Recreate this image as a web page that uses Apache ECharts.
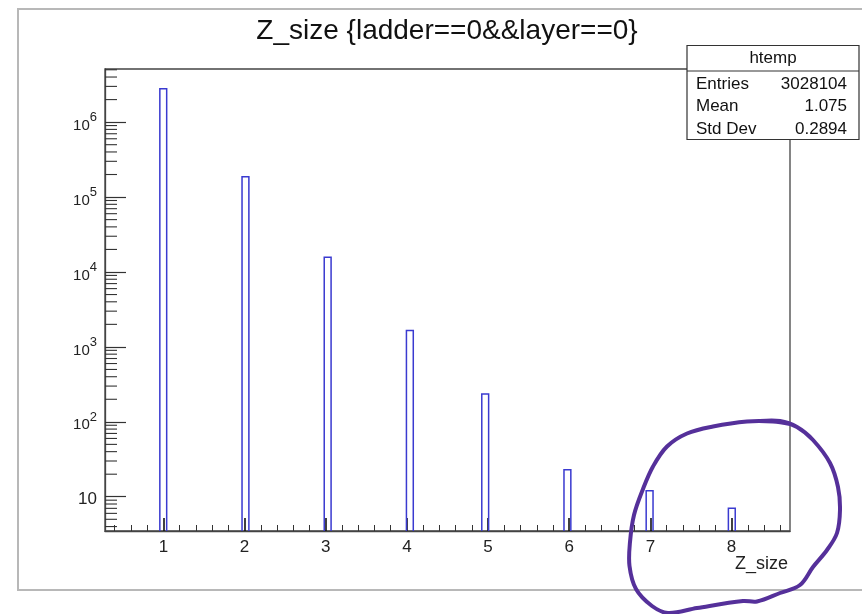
<!DOCTYPE html>
<html>
<head>
<meta charset="utf-8">
<script src="https://cdn.jsdelivr.net/npm/echarts@6/dist/echarts.min.js"></script>
<style>html,body{margin:0;padding:0;background:#fff;}#c{width:862px;height:614px;}</style>
</head>
<body>
<div id="c"></div>
<script>
// ---- data ----
const titleText = 'Z_size {ladder==0&&layer==0}';
const xAxisName = 'Z_size';
const binLow  = [0.9556, 1.9684, 2.9812, 3.9940, 4.9224, 5.9352, 6.9480, 7.9608];
const binHigh = [1.0400, 2.0528, 3.0656, 4.0784, 5.0068, 6.0196, 7.0324, 8.0452];
const counts  = [2800000, 187000, 15700, 1650, 236, 23, 12, 7];
const xTickLabels = [1, 2, 3, 4, 5, 6, 7, 8];
const xMinorTicks = [0.4, 0.6, 0.8, 1.2, 1.4, 1.6, 1.8, 2.2, 2.4, 2.6, 2.8, 3.2, 3.4, 3.6, 3.8,
                     4.2, 4.4, 4.6, 4.8, 5.2, 5.4, 5.6, 5.8, 6.2, 6.4, 6.6, 6.8, 7.2, 7.4, 7.6, 7.8,
                     8.2, 8.4, 8.6];
const yMinorTicks = [4, 5, 6, 7, 8, 9,
                     20, 30, 40, 50, 60, 70, 80, 90,
                     200, 300, 400, 500, 600, 700, 800, 900,
                     2000, 3000, 4000, 5000, 6000, 7000, 8000, 9000,
                     20000, 30000, 40000, 50000, 60000, 70000, 80000, 90000,
                     200000, 300000, 400000, 500000, 600000, 700000, 800000, 900000,
                     2000000, 3000000, 4000000, 5000000];
const statsName = 'htemp';
const statLabels = ['Entries', 'Mean', 'Std Dev'];
const statValues = ['3028104', '1.075', '0.2894'];

// ---- axis ranges ----
const X_MIN = 0.28, X_MAX = 8.72;
const Y_MIN = 3.49, Y_MAX = 5.12e6;

const FONT = '"Liberation Sans", Arial, Helvetica, sans-serif';
const chart = echarts.init(document.getElementById('c'), null, {renderer: 'canvas'});

const barData = binLow.map((lo, i) => [lo, binHigh[i], counts[i]]);

const statGraphics = [];
statGraphics.push({type: 'rect', z: 100, shape: {x: 687, y: 45.5, width: 172, height: 94},
  style: {fill: '#fff', stroke: '#333', lineWidth: 1.2}});
statGraphics.push({type: 'line', z: 101, shape: {x1: 687, y1: 71, x2: 859, y2: 71},
  style: {stroke: '#333', lineWidth: 1.2}});
statGraphics.push({type: 'text', z: 101, x: 773, y: 58,
  style: {text: statsName, font: '17px ' + FONT, fill: '#111', textAlign: 'center', textVerticalAlign: 'middle'}});
const rowY = [84, 106, 129];
statLabels.forEach((l, i) => {
  statGraphics.push({type: 'text', z: 101, x: 696, y: rowY[i],
    style: {text: l, font: '17px ' + FONT, fill: '#111', textAlign: 'left', textVerticalAlign: 'middle'}});
  statGraphics.push({type: 'text', z: 101, x: 847, y: rowY[i],
    style: {text: statValues[i], font: '17px ' + FONT, fill: '#111', textAlign: 'right', textVerticalAlign: 'middle'}});
});

const circlePts = [[790,424],[773,421.5],[747,421.5],[713,426.5],[687,433.5],[667,446.5],[653,466.5],
  [643,489],[634,515],[630,542],[629.5,566],[636,589],[652,606],[668,613],[697,608],[743,601],
  [757,601.5],[780,593],[800,585],[813,567],[827,550],[837,533],[840,510],[838,487],[830,463],
  [813,440],[797,427],[780,421],[760,421]];

const option = {
  animation: false,
  backgroundColor: '#fff',
  textStyle: {fontFamily: FONT},
  grid: {left: 105, right: 72, top: 69, bottom: 83, show: true, borderColor: '#444', borderWidth: 1.3, backgroundColor: 'transparent'},
  xAxis: [
    {
      type: 'value', min: X_MIN, max: X_MAX, position: 'bottom',
      axisLine: {show: true, onZero: false, lineStyle: {color: '#444', width: 1.3}},
      axisTick: {show: true, inside: true, length: 13, customValues: xTickLabels, lineStyle: {color: '#111', width: 1.6}},
      axisLabel: {show: true, customValues: xTickLabels, fontSize: 17, color: '#222', margin: 8, fontFamily: FONT},
      splitLine: {show: false}
    },
    {
      type: 'value', min: X_MIN, max: X_MAX, position: 'bottom',
      axisLine: {show: false},
      axisTick: {show: true, inside: true, length: 6, customValues: xMinorTicks, lineStyle: {color: '#333', width: 1}},
      axisLabel: {show: false},
      splitLine: {show: false}
    }
  ],
  yAxis: [
    {
      type: 'log', logBase: 10, min: Y_MIN, max: Y_MAX, position: 'left',
      axisLine: {show: true, onZero: false, lineStyle: {color: '#444', width: 1.3}},
      axisTick: {show: true, inside: true, length: 21, lineStyle: {color: '#333', width: 1.2}},
      axisLabel: {
        show: true, showMinLabel: false, showMaxLabel: false, margin: 8, color: '#222', fontFamily: FONT,
        formatter: function (v) {
          const e = Math.round(Math.log10(v));
          if (e === 1) return '{p|10}';
          return '{b|10}{s|' + e + '}';
        },
        rich: {
          p: {fontSize: 17, color: '#222', fontFamily: FONT, lineHeight: 22, verticalAlign: 'bottom'},
          b: {fontSize: 15, color: '#222', fontFamily: FONT, lineHeight: 22, verticalAlign: 'bottom'},
          s: {fontSize: 13, color: '#222', fontFamily: FONT, lineHeight: 13, verticalAlign: 'top'}
        }
      },
      splitLine: {show: false},
      minorTick: {show: false}
    }
  ],
  series: [
    {
      type: 'custom',
      name: 'htemp',
      xAxisIndex: 0, yAxisIndex: 0,
      data: barData,
      encode: {x: [0, 1], y: 2},
      clip: true,
      renderItem: function (params, api) {
        const top = api.coord([api.value(0), api.value(2)]);
        const bot = api.coord([api.value(1), Y_MIN]);
        return {
          type: 'polyline',
          shape: {points: [[top[0], bot[1]], [top[0], top[1]], [bot[0], top[1]], [bot[0], bot[1]]]},
          style: {stroke: '#3a3ad0', lineWidth: 1.5, fill: null}
        };
      }
    },
    {
      type: 'custom',
      name: 'yminor',
      xAxisIndex: 0, yAxisIndex: 0,
      data: yMinorTicks.map(v => [X_MIN, v]),
      encode: {x: 0, y: 1},
      clip: false,
      silent: true,
      renderItem: function (params, api) {
        const p = api.coord([X_MIN, api.value(1)]);
        return {
          type: 'line',
          shape: {x1: p[0], y1: p[1], x2: p[0] + 12, y2: p[1]},
          style: {stroke: '#333', lineWidth: 1.1}
        };
      }
    }
  ],
  graphic: [
    {type: 'rect', z: -10, silent: true, shape: {x: 18, y: 9, width: 870, height: 581},
      style: {fill: null, stroke: '#b8b8b8', lineWidth: 2}},
    {type: 'text', z: 100, x: 447, y: 31,
      style: {text: titleText, font: '28px ' + FONT, fill: '#111', textAlign: 'center', textVerticalAlign: 'middle'}},
    {type: 'text', z: 100, x: 788, y: 564,
      style: {text: xAxisName, font: '18px ' + FONT, fill: '#222', textAlign: 'right', textVerticalAlign: 'middle'}}
  ].concat(statGraphics).concat([
    {type: 'polyline', z: 120, silent: true, shape: {points: circlePts, smooth: 0.35},
      style: {stroke: '#55309a', lineWidth: 4, fill: null, lineCap: 'round', lineJoin: 'round'}}
  ])
};
chart.setOption(option);
</script>
</body>
</html>
